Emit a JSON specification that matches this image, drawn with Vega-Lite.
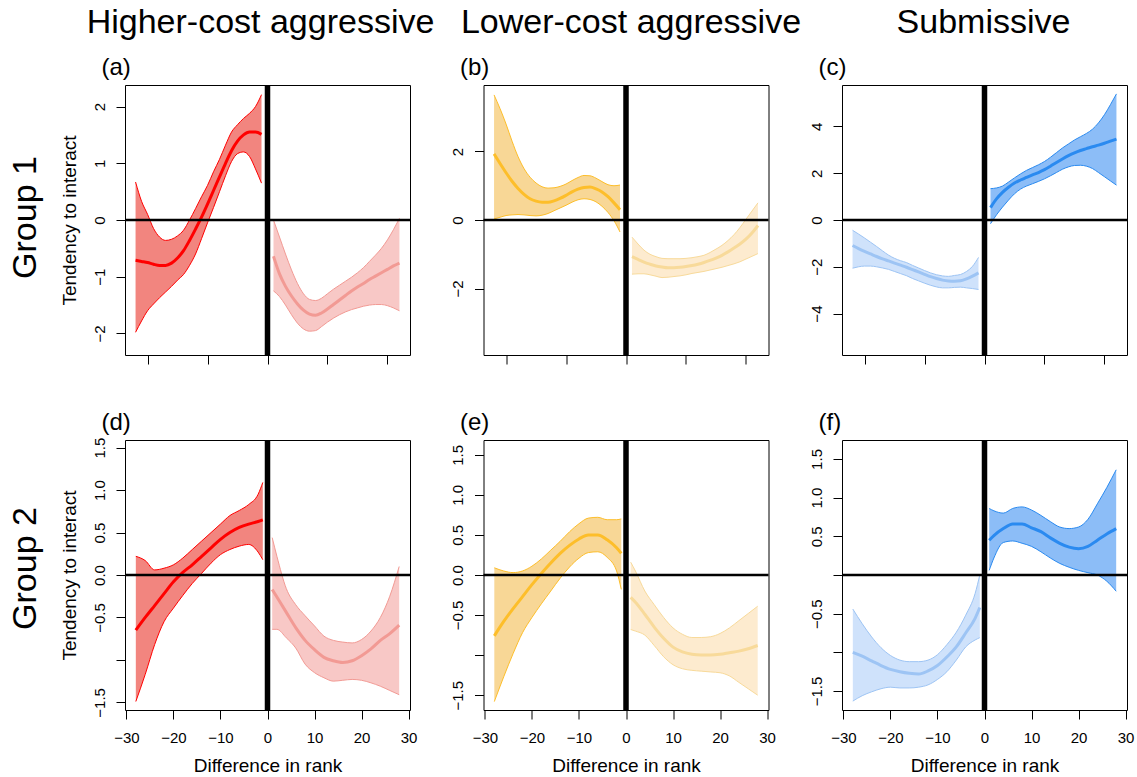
{
  "$schema": "https://vega.github.io/schema/vega-lite/v6.json",
  "background": "white",
  "padding": {"left": 7, "top": 5, "right": 0, "bottom": 0},
  "config": {
    "font": "Liberation Sans",
    "view": {"stroke": "black", "strokeWidth": 1},
    "axis": {"grid": false, "domain": false, "tickColor": "black", "tickSize": 9, "tickWidth": 1, "labelColor": "black", "labelFontSize": 15, "labelFont": "Liberation Sans", "labelFlush": false, "labelOverlap": false, "titleColor": "black", "titleFont": "Liberation Sans", "titleFontSize": 19, "titleFontWeight": "normal"},
    "axisX": {"labelPadding": 11, "titlePadding": 11},
    "axisY": {"labelAngle": -90, "labelAlign": "center", "labelBaseline": "bottom", "labelPadding": 9, "titlePadding": 13},
    "title": {"font": "Liberation Sans", "fontSize": 34, "fontWeight": "normal", "color": "black"}
  },
  "datasets": {
    "a": [
      {"side":"neg","x":-22,"lo":-1.98,"fit":-0.71,"hi":0.67},
      {"side":"neg","x":-21,"lo":-1.78,"fit":-0.73,"hi":0.33},
      {"side":"neg","x":-20,"lo":-1.60,"fit":-0.75,"hi":0.10},
      {"side":"neg","x":-19,"lo":-1.48,"fit":-0.78,"hi":-0.15},
      {"side":"neg","x":-18,"lo":-1.37,"fit":-0.80,"hi":-0.30},
      {"side":"neg","x":-17,"lo":-1.27,"fit":-0.80,"hi":-0.36},
      {"side":"neg","x":-16,"lo":-1.17,"fit":-0.76,"hi":-0.34},
      {"side":"neg","x":-15,"lo":-1.06,"fit":-0.67,"hi":-0.28},
      {"side":"neg","x":-14,"lo":-0.96,"fit":-0.54,"hi":-0.18},
      {"side":"neg","x":-13,"lo":-0.80,"fit":-0.36,"hi":0.00},
      {"side":"neg","x":-12,"lo":-0.60,"fit":-0.16,"hi":0.20},
      {"side":"neg","x":-11,"lo":-0.33,"fit":0.05,"hi":0.41},
      {"side":"neg","x":-10,"lo":-0.05,"fit":0.28,"hi":0.61},
      {"side":"neg","x":-9,"lo":0.22,"fit":0.52,"hi":0.85},
      {"side":"neg","x":-8,"lo":0.50,"fit":0.76,"hi":1.07},
      {"side":"neg","x":-7,"lo":0.78,"fit":1.00,"hi":1.32},
      {"side":"neg","x":-6,"lo":1.03,"fit":1.22,"hi":1.55},
      {"side":"neg","x":-5,"lo":1.17,"fit":1.39,"hi":1.68},
      {"side":"neg","x":-4,"lo":1.20,"fit":1.50,"hi":1.79},
      {"side":"neg","x":-3,"lo":1.12,"fit":1.55,"hi":1.88},
      {"side":"neg","x":-2,"lo":0.90,"fit":1.55,"hi":2.00},
      {"side":"neg","x":-1,"lo":0.65,"fit":1.51,"hi":2.21},
      {"side":"pos","x":1,"lo":-1.25,"fit":-0.64,"hi":0.00},
      {"side":"pos","x":2,"lo":-1.35,"fit":-0.95,"hi":-0.30},
      {"side":"pos","x":3,"lo":-1.50,"fit":-1.17,"hi":-0.60},
      {"side":"pos","x":4,"lo":-1.67,"fit":-1.34,"hi":-0.88},
      {"side":"pos","x":5,"lo":-1.82,"fit":-1.48,"hi":-1.12},
      {"side":"pos","x":6,"lo":-1.92,"fit":-1.59,"hi":-1.30},
      {"side":"pos","x":7,"lo":-1.96,"fit":-1.66,"hi":-1.40},
      {"side":"pos","x":8,"lo":-1.95,"fit":-1.68,"hi":-1.42},
      {"side":"pos","x":9,"lo":-1.88,"fit":-1.64,"hi":-1.38},
      {"side":"pos","x":10,"lo":-1.80,"fit":-1.57,"hi":-1.30},
      {"side":"pos","x":11,"lo":-1.73,"fit":-1.49,"hi":-1.22},
      {"side":"pos","x":12,"lo":-1.67,"fit":-1.41,"hi":-1.15},
      {"side":"pos","x":13,"lo":-1.62,"fit":-1.33,"hi":-1.08},
      {"side":"pos","x":14,"lo":-1.58,"fit":-1.25,"hi":-1.01},
      {"side":"pos","x":15,"lo":-1.55,"fit":-1.18,"hi":-0.93},
      {"side":"pos","x":16,"lo":-1.52,"fit":-1.12,"hi":-0.84},
      {"side":"pos","x":17,"lo":-1.50,"fit":-1.05,"hi":-0.73},
      {"side":"pos","x":18,"lo":-1.49,"fit":-0.99,"hi":-0.62},
      {"side":"pos","x":19,"lo":-1.49,"fit":-0.93,"hi":-0.50},
      {"side":"pos","x":20,"lo":-1.51,"fit":-0.87,"hi":-0.35},
      {"side":"pos","x":21,"lo":-1.55,"fit":-0.81,"hi":-0.17},
      {"side":"pos","x":22,"lo":-1.60,"fit":-0.76,"hi":0.03}
    ],
    "b": [
      {"side":"neg","x":-22,"lo":0.03,"fit":1.93,"hi":3.65},
      {"side":"neg","x":-21,"lo":0.08,"fit":1.65,"hi":3.25},
      {"side":"neg","x":-20,"lo":0.13,"fit":1.38,"hi":2.80},
      {"side":"neg","x":-19,"lo":0.15,"fit":1.13,"hi":2.30},
      {"side":"neg","x":-18,"lo":0.16,"fit":0.92,"hi":1.85},
      {"side":"neg","x":-17,"lo":0.15,"fit":0.75,"hi":1.50},
      {"side":"neg","x":-16,"lo":0.13,"fit":0.62,"hi":1.25},
      {"side":"neg","x":-15,"lo":0.12,"fit":0.55,"hi":1.08},
      {"side":"neg","x":-14,"lo":0.14,"fit":0.52,"hi":0.97},
      {"side":"neg","x":-13,"lo":0.19,"fit":0.52,"hi":0.93},
      {"side":"neg","x":-12,"lo":0.27,"fit":0.56,"hi":0.94},
      {"side":"neg","x":-11,"lo":0.35,"fit":0.63,"hi":0.98},
      {"side":"neg","x":-10,"lo":0.43,"fit":0.72,"hi":1.05},
      {"side":"neg","x":-9,"lo":0.52,"fit":0.82,"hi":1.15},
      {"side":"neg","x":-8,"lo":0.59,"fit":0.90,"hi":1.24},
      {"side":"neg","x":-7,"lo":0.62,"fit":0.95,"hi":1.30},
      {"side":"neg","x":-6,"lo":0.60,"fit":0.96,"hi":1.29},
      {"side":"neg","x":-5,"lo":0.53,"fit":0.91,"hi":1.22},
      {"side":"neg","x":-4,"lo":0.40,"fit":0.82,"hi":1.12},
      {"side":"neg","x":-3,"lo":0.22,"fit":0.68,"hi":1.03},
      {"side":"neg","x":-2,"lo":-0.02,"fit":0.50,"hi":1.00},
      {"side":"neg","x":-1,"lo":-0.35,"fit":0.30,"hi":1.02},
      {"side":"pos","x":1,"lo":-1.58,"fit":-1.07,"hi":-0.50},
      {"side":"pos","x":2,"lo":-1.57,"fit":-1.15,"hi":-0.70},
      {"side":"pos","x":3,"lo":-1.57,"fit":-1.23,"hi":-0.88},
      {"side":"pos","x":4,"lo":-1.60,"fit":-1.29,"hi":-1.00},
      {"side":"pos","x":5,"lo":-1.64,"fit":-1.34,"hi":-1.07},
      {"side":"pos","x":6,"lo":-1.68,"fit":-1.37,"hi":-1.12},
      {"side":"pos","x":7,"lo":-1.67,"fit":-1.39,"hi":-1.13},
      {"side":"pos","x":8,"lo":-1.65,"fit":-1.39,"hi":-1.13},
      {"side":"pos","x":9,"lo":-1.63,"fit":-1.38,"hi":-1.13},
      {"side":"pos","x":10,"lo":-1.60,"fit":-1.36,"hi":-1.12},
      {"side":"pos","x":11,"lo":-1.56,"fit":-1.33,"hi":-1.10},
      {"side":"pos","x":12,"lo":-1.53,"fit":-1.29,"hi":-1.07},
      {"side":"pos","x":13,"lo":-1.50,"fit":-1.24,"hi":-1.03},
      {"side":"pos","x":14,"lo":-1.46,"fit":-1.18,"hi":-0.95},
      {"side":"pos","x":15,"lo":-1.42,"fit":-1.11,"hi":-0.85},
      {"side":"pos","x":16,"lo":-1.38,"fit":-1.03,"hi":-0.74},
      {"side":"pos","x":17,"lo":-1.33,"fit":-0.93,"hi":-0.60},
      {"side":"pos","x":18,"lo":-1.28,"fit":-0.82,"hi":-0.43},
      {"side":"pos","x":19,"lo":-1.22,"fit":-0.70,"hi":-0.22},
      {"side":"pos","x":20,"lo":-1.14,"fit":-0.56,"hi":0.02},
      {"side":"pos","x":21,"lo":-1.06,"fit":-0.38,"hi":0.26},
      {"side":"pos","x":22,"lo":-0.98,"fit":-0.16,"hi":0.50}
    ],
    "c": [
      {"side":"neg","x":-22,"lo":-2.06,"fit":-1.09,"hi":-0.44},
      {"side":"neg","x":-21,"lo":-2.00,"fit":-1.22,"hi":-0.60},
      {"side":"neg","x":-20,"lo":-1.97,"fit":-1.34,"hi":-0.77},
      {"side":"neg","x":-19,"lo":-1.97,"fit":-1.45,"hi":-0.95},
      {"side":"neg","x":-18,"lo":-2.00,"fit":-1.56,"hi":-1.13},
      {"side":"neg","x":-17,"lo":-2.05,"fit":-1.66,"hi":-1.32},
      {"side":"neg","x":-16,"lo":-2.11,"fit":-1.75,"hi":-1.50},
      {"side":"neg","x":-15,"lo":-2.20,"fit":-1.84,"hi":-1.64},
      {"side":"neg","x":-14,"lo":-2.29,"fit":-1.93,"hi":-1.74},
      {"side":"neg","x":-13,"lo":-2.38,"fit":-2.02,"hi":-1.82},
      {"side":"neg","x":-12,"lo":-2.50,"fit":-2.12,"hi":-1.94},
      {"side":"neg","x":-11,"lo":-2.60,"fit":-2.22,"hi":-2.05},
      {"side":"neg","x":-10,"lo":-2.70,"fit":-2.32,"hi":-2.16},
      {"side":"neg","x":-9,"lo":-2.79,"fit":-2.42,"hi":-2.26},
      {"side":"neg","x":-8,"lo":-2.86,"fit":-2.50,"hi":-2.34},
      {"side":"neg","x":-7,"lo":-2.90,"fit":-2.57,"hi":-2.39},
      {"side":"neg","x":-6,"lo":-2.90,"fit":-2.61,"hi":-2.41},
      {"side":"neg","x":-5,"lo":-2.88,"fit":-2.62,"hi":-2.37},
      {"side":"neg","x":-4,"lo":-2.87,"fit":-2.60,"hi":-2.33},
      {"side":"neg","x":-3,"lo":-2.90,"fit":-2.52,"hi":-2.20},
      {"side":"neg","x":-2,"lo":-2.93,"fit":-2.40,"hi":-1.98},
      {"side":"neg","x":-1,"lo":-2.97,"fit":-2.26,"hi":-1.60},
      {"side":"pos","x":1,"lo":-0.16,"fit":0.53,"hi":1.34},
      {"side":"pos","x":2,"lo":0.22,"fit":0.90,"hi":1.37},
      {"side":"pos","x":3,"lo":0.55,"fit":1.18,"hi":1.45},
      {"side":"pos","x":4,"lo":0.85,"fit":1.40,"hi":1.62},
      {"side":"pos","x":5,"lo":1.12,"fit":1.58,"hi":1.80},
      {"side":"pos","x":6,"lo":1.32,"fit":1.71,"hi":1.97},
      {"side":"pos","x":7,"lo":1.45,"fit":1.82,"hi":2.12},
      {"side":"pos","x":8,"lo":1.55,"fit":1.93,"hi":2.24},
      {"side":"pos","x":9,"lo":1.65,"fit":2.03,"hi":2.36},
      {"side":"pos","x":10,"lo":1.76,"fit":2.15,"hi":2.50},
      {"side":"pos","x":11,"lo":1.89,"fit":2.30,"hi":2.68},
      {"side":"pos","x":12,"lo":2.03,"fit":2.46,"hi":2.88},
      {"side":"pos","x":13,"lo":2.17,"fit":2.61,"hi":3.08},
      {"side":"pos","x":14,"lo":2.27,"fit":2.75,"hi":3.25},
      {"side":"pos","x":15,"lo":2.33,"fit":2.87,"hi":3.42},
      {"side":"pos","x":16,"lo":2.34,"fit":2.97,"hi":3.56},
      {"side":"pos","x":17,"lo":2.30,"fit":3.05,"hi":3.70},
      {"side":"pos","x":18,"lo":2.20,"fit":3.13,"hi":3.88},
      {"side":"pos","x":19,"lo":2.03,"fit":3.20,"hi":4.15},
      {"side":"pos","x":20,"lo":1.85,"fit":3.28,"hi":4.50},
      {"side":"pos","x":21,"lo":1.67,"fit":3.37,"hi":4.93},
      {"side":"pos","x":22,"lo":1.49,"fit":3.46,"hi":5.39}
    ],
    "d": [
      {"side":"neg","x":-28,"lo":-1.49,"fit":-0.65,"hi":0.22},
      {"side":"neg","x":-26,"lo":-1.17,"fit":-0.50,"hi":0.17},
      {"side":"neg","x":-24,"lo":-0.82,"fit":-0.36,"hi":0.06},
      {"side":"neg","x":-22,"lo":-0.55,"fit":-0.22,"hi":0.08},
      {"side":"neg","x":-20,"lo":-0.39,"fit":-0.08,"hi":0.12},
      {"side":"neg","x":-18,"lo":-0.24,"fit":0.03,"hi":0.20},
      {"side":"neg","x":-16,"lo":-0.10,"fit":0.12,"hi":0.30},
      {"side":"neg","x":-14,"lo":0.02,"fit":0.22,"hi":0.40},
      {"side":"neg","x":-12,"lo":0.14,"fit":0.32,"hi":0.50},
      {"side":"neg","x":-10,"lo":0.24,"fit":0.42,"hi":0.60},
      {"side":"neg","x":-8,"lo":0.30,"fit":0.50,"hi":0.70},
      {"side":"neg","x":-6,"lo":0.34,"fit":0.56,"hi":0.76},
      {"side":"neg","x":-4,"lo":0.36,"fit":0.60,"hi":0.83},
      {"side":"neg","x":-2,"lo":0.27,"fit":0.63,"hi":0.95},
      {"side":"neg","x":-1,"lo":0.18,"fit":0.65,"hi":1.09},
      {"side":"pos","x":1,"lo":-0.64,"fit":-0.17,"hi":0.44},
      {"side":"pos","x":2,"lo":-0.64,"fit":-0.26,"hi":0.22},
      {"side":"pos","x":4,"lo":-0.74,"fit":-0.44,"hi":-0.16},
      {"side":"pos","x":6,"lo":-0.86,"fit":-0.62,"hi":-0.35},
      {"side":"pos","x":8,"lo":-1.05,"fit":-0.77,"hi":-0.48},
      {"side":"pos","x":10,"lo":-1.15,"fit":-0.88,"hi":-0.60},
      {"side":"pos","x":12,"lo":-1.21,"fit":-0.97,"hi":-0.72},
      {"side":"pos","x":14,"lo":-1.25,"fit":-1.01,"hi":-0.77},
      {"side":"pos","x":16,"lo":-1.24,"fit":-1.03,"hi":-0.79},
      {"side":"pos","x":18,"lo":-1.23,"fit":-1.01,"hi":-0.80},
      {"side":"pos","x":20,"lo":-1.24,"fit":-0.95,"hi":-0.76},
      {"side":"pos","x":22,"lo":-1.27,"fit":-0.87,"hi":-0.66},
      {"side":"pos","x":24,"lo":-1.31,"fit":-0.77,"hi":-0.50},
      {"side":"pos","x":26,"lo":-1.36,"fit":-0.69,"hi":-0.25},
      {"side":"pos","x":28,"lo":-1.41,"fit":-0.59,"hi":0.10}
    ],
    "e": [
      {"side":"neg","x":-28,"lo":-1.58,"fit":-0.76,"hi":0.09},
      {"side":"neg","x":-26,"lo":-1.27,"fit":-0.58,"hi":0.05},
      {"side":"neg","x":-24,"lo":-0.98,"fit":-0.42,"hi":0.03},
      {"side":"neg","x":-22,"lo":-0.72,"fit":-0.27,"hi":0.05},
      {"side":"neg","x":-20,"lo":-0.53,"fit":-0.12,"hi":0.11},
      {"side":"neg","x":-18,"lo":-0.36,"fit":0.02,"hi":0.20},
      {"side":"neg","x":-16,"lo":-0.20,"fit":0.15,"hi":0.31},
      {"side":"neg","x":-14,"lo":-0.04,"fit":0.27,"hi":0.42},
      {"side":"neg","x":-12,"lo":0.10,"fit":0.37,"hi":0.54},
      {"side":"neg","x":-10,"lo":0.21,"fit":0.45,"hi":0.64},
      {"side":"neg","x":-8,"lo":0.28,"fit":0.50,"hi":0.71},
      {"side":"neg","x":-6,"lo":0.29,"fit":0.50,"hi":0.72},
      {"side":"neg","x":-4,"lo":0.22,"fit":0.44,"hi":0.69},
      {"side":"neg","x":-2,"lo":0.05,"fit":0.34,"hi":0.69},
      {"side":"neg","x":-1,"lo":-0.18,"fit":0.27,"hi":0.70},
      {"side":"pos","x":1,"lo":-0.68,"fit":-0.28,"hi":0.16},
      {"side":"pos","x":2,"lo":-0.70,"fit":-0.34,"hi":0.05},
      {"side":"pos","x":4,"lo":-0.75,"fit":-0.49,"hi":-0.20},
      {"side":"pos","x":6,"lo":-0.88,"fit":-0.65,"hi":-0.37},
      {"side":"pos","x":8,"lo":-1.02,"fit":-0.79,"hi":-0.53},
      {"side":"pos","x":10,"lo":-1.12,"fit":-0.90,"hi":-0.66},
      {"side":"pos","x":12,"lo":-1.17,"fit":-0.96,"hi":-0.74},
      {"side":"pos","x":14,"lo":-1.19,"fit":-0.99,"hi":-0.78},
      {"side":"pos","x":16,"lo":-1.20,"fit":-1.00,"hi":-0.78},
      {"side":"pos","x":18,"lo":-1.21,"fit":-1.00,"hi":-0.77},
      {"side":"pos","x":20,"lo":-1.22,"fit":-0.99,"hi":-0.73},
      {"side":"pos","x":22,"lo":-1.26,"fit":-0.97,"hi":-0.66},
      {"side":"pos","x":24,"lo":-1.34,"fit":-0.95,"hi":-0.57},
      {"side":"pos","x":26,"lo":-1.42,"fit":-0.92,"hi":-0.48},
      {"side":"pos","x":28,"lo":-1.50,"fit":-0.88,"hi":-0.39}
    ],
    "f": [
      {"side":"neg","x":-28,"lo":-1.63,"fit":-1.00,"hi":-0.44},
      {"side":"neg","x":-26,"lo":-1.56,"fit":-1.05,"hi":-0.63},
      {"side":"neg","x":-24,"lo":-1.51,"fit":-1.11,"hi":-0.80},
      {"side":"neg","x":-22,"lo":-1.47,"fit":-1.17,"hi":-0.94},
      {"side":"neg","x":-20,"lo":-1.45,"fit":-1.22,"hi":-1.04},
      {"side":"neg","x":-18,"lo":-1.46,"fit":-1.25,"hi":-1.10},
      {"side":"neg","x":-16,"lo":-1.46,"fit":-1.27,"hi":-1.12},
      {"side":"neg","x":-14,"lo":-1.45,"fit":-1.28,"hi":-1.12},
      {"side":"neg","x":-12,"lo":-1.42,"fit":-1.24,"hi":-1.10},
      {"side":"neg","x":-10,"lo":-1.35,"fit":-1.17,"hi":-1.03},
      {"side":"neg","x":-8,"lo":-1.25,"fit":-1.06,"hi":-0.90},
      {"side":"neg","x":-6,"lo":-1.10,"fit":-0.93,"hi":-0.74},
      {"side":"neg","x":-4,"lo":-0.93,"fit":-0.75,"hi":-0.52},
      {"side":"neg","x":-2,"lo":-0.84,"fit":-0.56,"hi":-0.24},
      {"side":"neg","x":-1,"lo":-0.81,"fit":-0.42,"hi":0.00},
      {"side":"pos","x":1,"lo":0.06,"fit":0.45,"hi":0.86},
      {"side":"pos","x":2,"lo":0.22,"fit":0.51,"hi":0.83},
      {"side":"pos","x":4,"lo":0.42,"fit":0.60,"hi":0.80},
      {"side":"pos","x":6,"lo":0.44,"fit":0.66,"hi":0.86},
      {"side":"pos","x":8,"lo":0.41,"fit":0.66,"hi":0.88},
      {"side":"pos","x":10,"lo":0.37,"fit":0.61,"hi":0.84},
      {"side":"pos","x":12,"lo":0.30,"fit":0.56,"hi":0.77},
      {"side":"pos","x":14,"lo":0.22,"fit":0.48,"hi":0.69},
      {"side":"pos","x":16,"lo":0.15,"fit":0.41,"hi":0.62},
      {"side":"pos","x":18,"lo":0.10,"fit":0.36,"hi":0.60},
      {"side":"pos","x":20,"lo":0.06,"fit":0.34,"hi":0.62},
      {"side":"pos","x":22,"lo":0.03,"fit":0.37,"hi":0.72},
      {"side":"pos","x":24,"lo":0.00,"fit":0.45,"hi":0.92},
      {"side":"pos","x":26,"lo":-0.08,"fit":0.53,"hi":1.13},
      {"side":"pos","x":28,"lo":-0.21,"fit":0.60,"hi":1.36}
    ]
  },
  "columns": 3,
  "bounds": "flush",
  "spacing": {"row": 85, "column": 73.5},
  "resolve": {"scale": {"fill": "independent", "stroke": "independent"}},
  "concat": [
    {
      "title": {"text": "Higher-cost aggressive", "anchor": "middle", "frame": "group", "dx": -7, "offset": 15},
      "width": 285, "height": 270,
      "resolve": {"axis": {"x": "independent", "y": "independent"}},
      "layer": [
        {
          "data": {"name": "a"},
          "encoding": {"x": {"field": "x", "type": "quantitative", "scale": {"domain": [-23.76, 23.76], "nice": false, "zero": false}, "axis": {"values": [-20, -10, 0, 10, 20], "labels": false, "title": null}}},
          "layer": [
            {"mark": {"type": "area", "interpolate": "monotone"}, "encoding": {"y": {"field": "lo", "type": "quantitative", "scale": {"domain": [-2.38, 2.38], "nice": false, "zero": false}, "axis": {"values": [-2, -1, 0, 1, 2], "format": "d", "title": "Tendency to interact"}}, "y2": {"field": "hi"}, "fill": {"field": "side", "type": "nominal", "scale": {"domain": ["neg", "pos"], "range": ["#F2857F", "#F8C8C6"]}, "legend": null}}},
            {"mark": {"type": "line", "interpolate": "monotone", "strokeWidth": 1}, "encoding": {"y": {"field": "lo", "type": "quantitative", "title": "Tendency to interact"}, "stroke": {"field": "side", "type": "nominal", "scale": {"domain": ["neg", "pos"], "range": ["#FF0000", "#F29A94"]}, "legend": null}}},
            {"mark": {"type": "line", "interpolate": "monotone", "strokeWidth": 1}, "encoding": {"y": {"field": "hi", "type": "quantitative", "title": "Tendency to interact"}, "stroke": {"field": "side", "type": "nominal", "legend": null}}},
            {"mark": {"type": "line", "interpolate": "monotone", "strokeWidth": 3}, "encoding": {"y": {"field": "fit", "type": "quantitative", "title": "Tendency to interact"}, "stroke": {"field": "side", "type": "nominal", "legend": null}}}
          ]
        },
        {"data": {"values": [{}]}, "mark": {"type": "rule", "color": "black", "strokeWidth": 2.5}, "encoding": {"y": {"datum": 0, "axis": {"orient": "left", "ticks": false, "labels": false, "title": "Group 1", "titleFontSize": 34, "titlePadding": 83, "titleY": 132}}}},
        {"data": {"values": [{}]}, "mark": {"type": "rule", "color": "black", "strokeWidth": 5.5}, "encoding": {"x": {"datum": 0, "axis": {"orient": "top", "ticks": false, "labels": false, "title": "(a)", "titleFontSize": 24, "titlePadding": 6, "titleX": -24, "titleAlign": "left"}}}}
      ]
    },
    {
      "title": {"text": "Lower-cost aggressive", "anchor": "middle", "frame": "group", "dx": 5, "offset": 15},
      "width": 285, "height": 270,
      "resolve": {"axis": {"x": "independent", "y": "independent"}},
      "layer": [
        {
          "data": {"name": "b"},
          "encoding": {"x": {"field": "x", "type": "quantitative", "scale": {"domain": [-23.76, 23.76], "nice": false, "zero": false}, "axis": {"values": [-20, -10, 0, 10, 20], "labels": false, "title": null}}},
          "layer": [
            {"mark": {"type": "area", "interpolate": "monotone"}, "encoding": {"y": {"field": "lo", "type": "quantitative", "scale": {"domain": [-3.94, 3.94], "nice": false, "zero": false}, "axis": {"values": [-2, 0, 2], "format": "d", "title": null}}, "y2": {"field": "hi"}, "fill": {"field": "side", "type": "nominal", "scale": {"domain": ["neg", "pos"], "range": ["#F8D796", "#FDEBCF"]}, "legend": null}}},
            {"mark": {"type": "line", "interpolate": "monotone", "strokeWidth": 1}, "encoding": {"y": {"field": "lo", "type": "quantitative", "title": null}, "stroke": {"field": "side", "type": "nominal", "scale": {"domain": ["neg", "pos"], "range": ["#FDBE2A", "#F8DA9A"]}, "legend": null}}},
            {"mark": {"type": "line", "interpolate": "monotone", "strokeWidth": 1}, "encoding": {"y": {"field": "hi", "type": "quantitative", "title": null}, "stroke": {"field": "side", "type": "nominal", "legend": null}}},
            {"mark": {"type": "line", "interpolate": "monotone", "strokeWidth": 3}, "encoding": {"y": {"field": "fit", "type": "quantitative", "title": null}, "stroke": {"field": "side", "type": "nominal", "legend": null}}}
          ]
        },
        {"data": {"values": [{}]}, "mark": {"type": "rule", "color": "black", "strokeWidth": 2.5}, "encoding": {"y": {"datum": 0, "axis": null}}},
        {"data": {"values": [{}]}, "mark": {"type": "rule", "color": "black", "strokeWidth": 5.5}, "encoding": {"x": {"datum": 0, "axis": {"orient": "top", "ticks": false, "labels": false, "title": "(b)", "titleFontSize": 24, "titlePadding": 6, "titleX": -24, "titleAlign": "left"}}}}
      ]
    },
    {
      "title": {"text": "Submissive", "anchor": "middle", "frame": "group", "dx": -1, "offset": 15},
      "width": 285, "height": 270,
      "resolve": {"axis": {"x": "independent", "y": "independent"}},
      "layer": [
        {
          "data": {"name": "c"},
          "encoding": {"x": {"field": "x", "type": "quantitative", "scale": {"domain": [-23.76, 23.76], "nice": false, "zero": false}, "axis": {"values": [-20, -10, 0, 10, 20], "labels": false, "title": null}}},
          "layer": [
            {"mark": {"type": "area", "interpolate": "monotone"}, "encoding": {"y": {"field": "lo", "type": "quantitative", "scale": {"domain": [-5.77, 5.77], "nice": false, "zero": false}, "axis": {"values": [-4, -2, 0, 2, 4], "format": "d", "title": null}}, "y2": {"field": "hi"}, "fill": {"field": "side", "type": "nominal", "scale": {"domain": ["neg", "pos"], "range": ["#CFE2FB", "#8CBDF7"]}, "legend": null}}},
            {"mark": {"type": "line", "interpolate": "monotone", "strokeWidth": 1}, "encoding": {"y": {"field": "lo", "type": "quantitative", "title": null}, "stroke": {"field": "side", "type": "nominal", "scale": {"domain": ["neg", "pos"], "range": ["#9DC4F4", "#2A8AF0"]}, "legend": null}}},
            {"mark": {"type": "line", "interpolate": "monotone", "strokeWidth": 1}, "encoding": {"y": {"field": "hi", "type": "quantitative", "title": null}, "stroke": {"field": "side", "type": "nominal", "legend": null}}},
            {"mark": {"type": "line", "interpolate": "monotone", "strokeWidth": 3}, "encoding": {"y": {"field": "fit", "type": "quantitative", "title": null}, "stroke": {"field": "side", "type": "nominal", "legend": null}}}
          ]
        },
        {"data": {"values": [{}]}, "mark": {"type": "rule", "color": "black", "strokeWidth": 2.5}, "encoding": {"y": {"datum": 0, "axis": null}}},
        {"data": {"values": [{}]}, "mark": {"type": "rule", "color": "black", "strokeWidth": 5.5}, "encoding": {"x": {"datum": 0, "axis": {"orient": "top", "ticks": false, "labels": false, "title": "(c)", "titleFontSize": 24, "titlePadding": 6, "titleX": -24, "titleAlign": "left"}}}}
      ]
    },
    {
      "width": 285, "height": 270,
      "resolve": {"axis": {"x": "independent", "y": "independent"}},
      "layer": [
        {
          "data": {"name": "d"},
          "encoding": {"x": {"field": "x", "type": "quantitative", "scale": {"domain": [-30.3, 30.3], "nice": false, "zero": false}, "axis": {"values": [-30, -20, -10, 0, 10, 20, 30], "format": "d", "title": "Difference in rank"}}},
          "layer": [
            {"mark": {"type": "area", "interpolate": "monotone"}, "encoding": {"y": {"field": "lo", "type": "quantitative", "scale": {"domain": [-1.59, 1.59], "nice": false, "zero": false}, "axis": {"values": [-1.5, -1, -0.5, 0, 0.5, 1, 1.5], "labelExpr": "datum.value === -1 ? '' : format(datum.value, '.1f')", "title": "Tendency to interact"}}, "y2": {"field": "hi"}, "fill": {"field": "side", "type": "nominal", "scale": {"domain": ["neg", "pos"], "range": ["#F2857F", "#F8C8C6"]}, "legend": null}}},
            {"mark": {"type": "line", "interpolate": "monotone", "strokeWidth": 1}, "encoding": {"y": {"field": "lo", "type": "quantitative", "title": "Tendency to interact"}, "stroke": {"field": "side", "type": "nominal", "scale": {"domain": ["neg", "pos"], "range": ["#FF0000", "#F29A94"]}, "legend": null}}},
            {"mark": {"type": "line", "interpolate": "monotone", "strokeWidth": 1}, "encoding": {"y": {"field": "hi", "type": "quantitative", "title": "Tendency to interact"}, "stroke": {"field": "side", "type": "nominal", "legend": null}}},
            {"mark": {"type": "line", "interpolate": "monotone", "strokeWidth": 3}, "encoding": {"y": {"field": "fit", "type": "quantitative", "title": "Tendency to interact"}, "stroke": {"field": "side", "type": "nominal", "legend": null}}}
          ]
        },
        {"data": {"values": [{}]}, "mark": {"type": "rule", "color": "black", "strokeWidth": 2.5}, "encoding": {"y": {"datum": 0, "axis": {"orient": "left", "ticks": false, "labels": false, "title": "Group 2", "titleFontSize": 34, "titlePadding": 83, "titleY": 128}}}},
        {"data": {"values": [{}]}, "mark": {"type": "rule", "color": "black", "strokeWidth": 5.5}, "encoding": {"x": {"datum": 0, "axis": {"orient": "top", "ticks": false, "labels": false, "title": "(d)", "titleFontSize": 24, "titlePadding": 6, "titleX": -24, "titleAlign": "left"}}}}
      ]
    },
    {
      "width": 285, "height": 270,
      "resolve": {"axis": {"x": "independent", "y": "independent"}},
      "layer": [
        {
          "data": {"name": "e"},
          "encoding": {"x": {"field": "x", "type": "quantitative", "scale": {"domain": [-30.3, 30.3], "nice": false, "zero": false}, "axis": {"values": [-30, -20, -10, 0, 10, 20, 30], "format": "d", "title": "Difference in rank"}}},
          "layer": [
            {"mark": {"type": "area", "interpolate": "monotone"}, "encoding": {"y": {"field": "lo", "type": "quantitative", "scale": {"domain": [-1.685, 1.685], "nice": false, "zero": false}, "axis": {"values": [-1.5, -1, -0.5, 0, 0.5, 1, 1.5], "labelExpr": "datum.value === -1 ? '' : format(datum.value, '.1f')", "title": null}}, "y2": {"field": "hi"}, "fill": {"field": "side", "type": "nominal", "scale": {"domain": ["neg", "pos"], "range": ["#F8D796", "#FDEBCF"]}, "legend": null}}},
            {"mark": {"type": "line", "interpolate": "monotone", "strokeWidth": 1}, "encoding": {"y": {"field": "lo", "type": "quantitative", "title": null}, "stroke": {"field": "side", "type": "nominal", "scale": {"domain": ["neg", "pos"], "range": ["#FDBE2A", "#F8DA9A"]}, "legend": null}}},
            {"mark": {"type": "line", "interpolate": "monotone", "strokeWidth": 1}, "encoding": {"y": {"field": "hi", "type": "quantitative", "title": null}, "stroke": {"field": "side", "type": "nominal", "legend": null}}},
            {"mark": {"type": "line", "interpolate": "monotone", "strokeWidth": 3}, "encoding": {"y": {"field": "fit", "type": "quantitative", "title": null}, "stroke": {"field": "side", "type": "nominal", "legend": null}}}
          ]
        },
        {"data": {"values": [{}]}, "mark": {"type": "rule", "color": "black", "strokeWidth": 2.5}, "encoding": {"y": {"datum": 0, "axis": null}}},
        {"data": {"values": [{}]}, "mark": {"type": "rule", "color": "black", "strokeWidth": 5.5}, "encoding": {"x": {"datum": 0, "axis": {"orient": "top", "ticks": false, "labels": false, "title": "(e)", "titleFontSize": 24, "titlePadding": 6, "titleX": -24, "titleAlign": "left"}}}}
      ]
    },
    {
      "width": 285, "height": 270,
      "resolve": {"axis": {"x": "independent", "y": "independent"}},
      "layer": [
        {
          "data": {"name": "f"},
          "encoding": {"x": {"field": "x", "type": "quantitative", "scale": {"domain": [-30.3, 30.3], "nice": false, "zero": false}, "axis": {"values": [-30, -20, -10, 0, 10, 20, 30], "format": "d", "title": "Difference in rank"}}},
          "layer": [
            {"mark": {"type": "area", "interpolate": "monotone"}, "encoding": {"y": {"field": "lo", "type": "quantitative", "scale": {"domain": [-1.745, 1.745], "nice": false, "zero": false}, "axis": {"values": [-1.5, -1, -0.5, 0, 0.5, 1, 1.5], "labelExpr": "datum.value === -1 || datum.value === 0 ? '' : format(datum.value, '.1f')", "title": null}}, "y2": {"field": "hi"}, "fill": {"field": "side", "type": "nominal", "scale": {"domain": ["neg", "pos"], "range": ["#CFE2FB", "#8CBDF7"]}, "legend": null}}},
            {"mark": {"type": "line", "interpolate": "monotone", "strokeWidth": 1}, "encoding": {"y": {"field": "lo", "type": "quantitative", "title": null}, "stroke": {"field": "side", "type": "nominal", "scale": {"domain": ["neg", "pos"], "range": ["#9DC4F4", "#2A8AF0"]}, "legend": null}}},
            {"mark": {"type": "line", "interpolate": "monotone", "strokeWidth": 1}, "encoding": {"y": {"field": "hi", "type": "quantitative", "title": null}, "stroke": {"field": "side", "type": "nominal", "legend": null}}},
            {"mark": {"type": "line", "interpolate": "monotone", "strokeWidth": 3}, "encoding": {"y": {"field": "fit", "type": "quantitative", "title": null}, "stroke": {"field": "side", "type": "nominal", "legend": null}}}
          ]
        },
        {"data": {"values": [{}]}, "mark": {"type": "rule", "color": "black", "strokeWidth": 2.5}, "encoding": {"y": {"datum": 0, "axis": null}}},
        {"data": {"values": [{}]}, "mark": {"type": "rule", "color": "black", "strokeWidth": 5.5}, "encoding": {"x": {"datum": 0, "axis": {"orient": "top", "ticks": false, "labels": false, "title": "(f)", "titleFontSize": 24, "titlePadding": 6, "titleX": -24, "titleAlign": "left"}}}}
      ]
    }
  ]
}
